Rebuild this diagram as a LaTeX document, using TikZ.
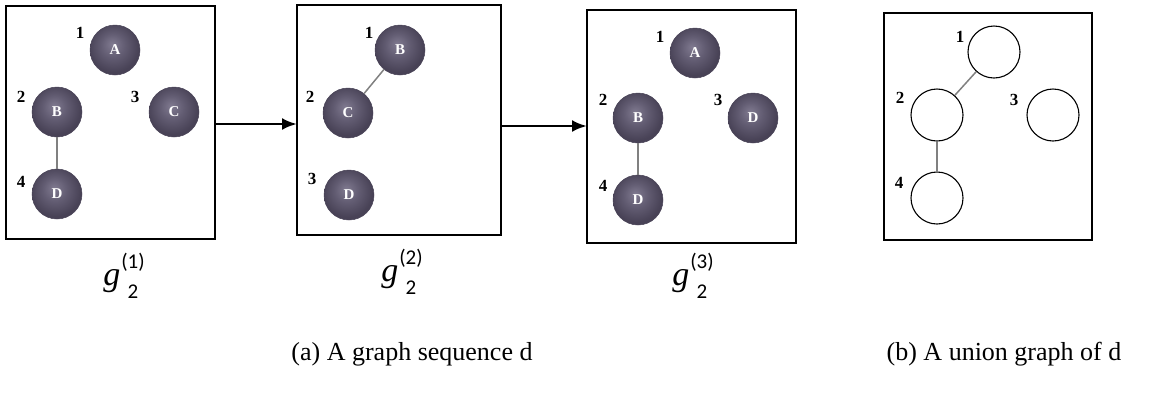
\documentclass[tikz,border=0pt]{standalone}
\usepackage{fontspec}
\setmainfont{Liberation Serif}
\newfontfamily\calfont{Carlito}
\usepackage{tikz}
\usetikzlibrary{arrows.meta,positioning}

\definecolor{ballcol}{RGB}{72,66,86}
\definecolor{ballmid}{RGB}{98,92,114}
\definecolor{balllight}{RGB}{128,122,144}
\pgfdeclareradialshading{softball}{\pgfpoint{-3bp}{6bp}}{%
  color(0bp)=(balllight); color(12bp)=(ballmid); color(25bp)=(ballcol); color(50bp)=(ballcol)}

% sequence label g with stacked (k) and 2
\newcommand{\seqlabel}[1]{{\fontsize{34}{34}\selectfont\itshape g}\hspace{1pt}%
  \raisebox{-13pt}{\fontsize{21}{21}\selectfont\calfont\shortstack{(#1)\\[10pt]2}}}

\begin{document}
\begin{tikzpicture}[x=1pt, y=-1pt,
    frame/.style={draw, line width=1.7pt},
    ball/.style={circle, minimum size=50pt, inner sep=0pt, shading=softball, draw=ballcol, line width=0.5pt, text=white, font=\fontsize{15}{15}\selectfont\bfseries},
    empty/.style={circle, draw, line width=1.1pt, minimum size=52pt, inner sep=0pt},
    num/.style={font=\fontsize{17}{17}\selectfont\bfseries},
    link/.style={draw=gray, line width=1.5pt},
    seq/.style={-{Latex[length=15pt,width=12pt]}, line width=2.8pt},
    gname/.style={inner sep=0pt},
    captext/.style={font=\fontsize{26}{30}\selectfont}]
            \useasboundingbox (0,0) rectangle (1150,392);
            % Frames
            \draw[frame] (6,6) rectangle (215,239);
            \draw[frame] (297,5) rectangle (501,235);
            \draw[frame] (587,10) rectangle (796,243);
            \draw[frame] (884,13) rectangle (1092,240);

            % First graph
            \node[ball] (a1) at (115,50) {A};
            \node[ball] (b1) at (57,112) {B};
            \node[ball] (c1) at (174,112) {C};
            \node[ball] (d1) at (57,194) {D};
            \node[num] at (80,33) {1};
            \node[num] at (21,97) {2};
            \node[num] at (135,97) {3};
            \node[num] at (21,182) {4};
            \draw[link] (b1) -- (d1);

            % Second graph
            \node[ball] (b2) at (400,50) {B};
            \node[ball] (c2) at (348,113) {C};
            \node[ball] (d2) at (349,195) {D};
            \node[num] at (369,33) {1};
            \node[num] at (310,97) {2};
            \node[num] at (312,179) {3};
            \draw[link] (c2) -- (b2);

            % Third graph
            \node[ball] (a3) at (695,53) {A};
            \node[ball] (b3) at (638,118) {B};
            \node[ball] (d3) at (753,118) {D};
            \node[ball] (e3) at (638,200) {D};
            \node[num] at (660,37) {1};
            \node[num] at (603,100) {2};
            \node[num] at (718,100) {3};
            \node[num] at (603,186) {4};
            \draw[link] (b3) -- (e3);

            % Union graph
            \node[empty] (u1) at (994,52) {};
            \node[empty] (u2) at (937,115) {};
            \node[empty] (u3) at (1053,115) {};
            \node[empty] (u4) at (937,198) {};
            \node[num] at (960,37) {1};
            \node[num] at (900,98) {2};
            \node[num] at (1014,100) {3};
            \node[num] at (899,183) {4};
            \draw[link] (u1) -- (u2);
            \draw[link] (u2) -- (u4);

            % Sequence arrows
            \coordinate (o1) at (215,124);
            \coordinate (i1) at (297,124);
            \coordinate (o2) at (501,126);
            \coordinate (i2) at (587,126);
            \draw[seq] (o1) -- (i1);
            \draw[seq] (o2) -- (i2);

            % Captions
            \node[gname] (g1) at (124,276) {\seqlabel{1}};
            \node[gname] (g2) at (402,272) {\seqlabel{2}};
            \node[gname] (g3) at (693,276) {\seqlabel{3}};
            \node[captext] (ca) at (412,354) {(a) A graph sequence d};
            \node[captext] (cb) at (1004,354) {(b) A union graph of d};
        \end{tikzpicture}
\end{document}
